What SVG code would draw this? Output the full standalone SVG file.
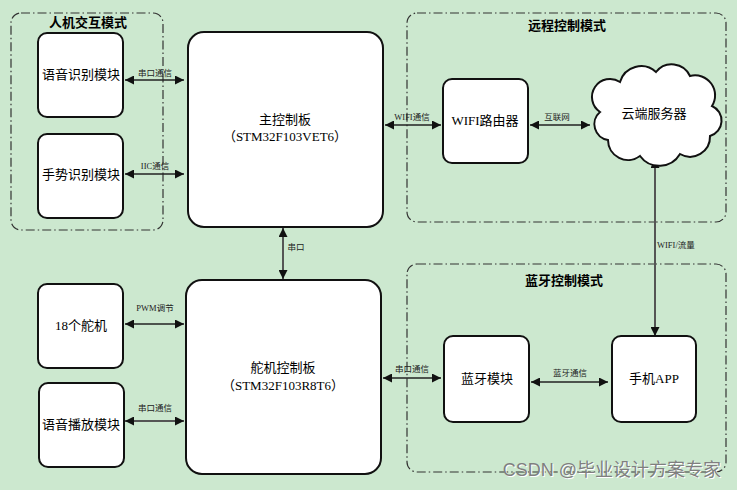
<svg xmlns="http://www.w3.org/2000/svg" width="737" height="490" viewBox="0 0 737 490">
<defs>
<marker id="ah" viewBox="0 0 10 10" refX="10" refY="5" markerWidth="9" markerHeight="9" markerUnits="userSpaceOnUse" orient="auto-start-reverse"><path d="M0,0 L10,5 L0,10 Z" fill="#111"/></marker>
</defs>
<style>
.grp{fill:none;stroke:#333;stroke-width:1.2;stroke-dasharray:9,3,1.5,3}
.box{fill:#fff;stroke:#111;stroke-width:2}
.t{font-family:"Liberation Serif","Noto Sans CJK SC",serif;font-size:13px;fill:#000;text-anchor:middle}
.gt{font-family:"Liberation Sans","Noto Sans CJK SC",sans-serif;font-size:13px;font-weight:bold;fill:#000;text-anchor:middle}
.lb{font-family:"Liberation Serif","Noto Sans CJK SC",serif;font-size:8.5px;fill:#222;text-anchor:middle}
.ln{stroke:#222;stroke-width:1.5;fill:none;marker-start:url(#ah);marker-end:url(#ah)}
.lg{stroke:#555;stroke-width:2;fill:none;marker-start:url(#ah);marker-end:url(#ah)}
.wm{font-family:"Liberation Sans","Noto Sans CJK SC",sans-serif;font-size:18px;text-anchor:end}
</style>
<rect width="737" height="490" fill="#cce8cf"/>
<g id="group-hci">
<rect class="grp" x="11" y="13" width="152" height="217" rx="10"/>
<text class="gt" x="88" y="27">人机交互模式</text>
</g>
<g id="group-remote">
<rect class="grp" x="407" y="13" width="319" height="209" rx="10"/>
<text class="gt" x="567" y="30">远程控制模式</text>
</g>
<g id="group-bt">
<rect class="grp" x="407" y="264" width="319" height="208" rx="10"/>
<text class="gt" x="564" y="285">蓝牙控制模式</text>
</g>
<g id="connectors">
<line class="ln" x1="125" y1="80" x2="184" y2="80"/>
<text class="lb" x="155" y="76">串口通信</text>
<line class="ln" x1="125" y1="174" x2="184" y2="174"/>
<text class="lb" x="155" y="169">IIC通信</text>
<line class="ln" x1="385" y1="125" x2="441" y2="125"/>
<text class="lb" x="412" y="120">WIFI通信</text>
<line class="ln" x1="530" y1="125" x2="590" y2="125"/>
<text class="lb" x="557" y="120">互联网</text>
<line class="lg" x1="655" y1="159" x2="655" y2="336"/>
<text class="lb" x="657" y="248" style="text-anchor:start">WIFI/流量</text>
<line class="lg" x1="283" y1="228" x2="283" y2="279"/>
<text class="lb" x="296" y="250">串口</text>
<line class="ln" x1="125" y1="324" x2="184" y2="324"/>
<text class="lb" x="155" y="311">PWM调节</text>
<line class="lg" x1="125" y1="421" x2="184" y2="421"/>
<text class="lb" x="155" y="411">串口通信</text>
<line class="ln" x1="383" y1="378" x2="441" y2="378"/>
<text class="lb" x="412" y="372">串口通信</text>
<line class="ln" x1="531" y1="382" x2="608" y2="382"/>
<text class="lb" x="570" y="376">蓝牙通信</text>
</g>
<g id="voice-rec">
<rect class="box" x="38" y="33" width="85" height="84" rx="9"/>
<text class="t" x="81" y="79">语音识别模块</text>
</g>
<g id="gesture">
<rect class="box" x="38" y="134" width="85" height="84" rx="9"/>
<text class="t" x="81" y="179">手势识别模块</text>
</g>
<g id="main-board">
<rect class="box" x="188" y="32" width="195" height="195" rx="16"/>
<text class="t" x="285" y="124">主控制板</text>
<text class="t" x="285" y="141">（STM32F103VET6）</text>
</g>
<g id="wifi-router">
<rect class="box" x="443" y="79" width="85" height="84" rx="9"/>
<text class="t" x="485" y="125">WIFI路由器</text>
</g>
<g id="cloud">
<path d="M608,140 a16,16 0 0 1 -8,-28 a18,18 0 0 1 20,-30 a22,22 0 0 1 36,-10 a20,20 0 0 1 34,4 a20,20 0 0 1 22,30 a16,16 0 0 1 -2,30 a20,20 0 0 1 -30,18 a24,24 0 0 1 -40,2 a20,20 0 0 1 -32,-16 Z" fill="#fff" stroke="#111" stroke-width="2"/>
<text class="t" x="654" y="118">云端服务器</text>
</g>
<g id="servos">
<rect class="box" x="38" y="284" width="85" height="84" rx="9"/>
<text class="t" x="81" y="330">18个舵机</text>
</g>
<g id="voice-play">
<rect class="box" x="39" y="383" width="85" height="84" rx="9"/>
<text class="t" x="81" y="429">语音播放模块</text>
</g>
<g id="servo-board">
<rect class="box" x="186" y="280" width="195" height="194" rx="16"/>
<text class="t" x="283" y="372">舵机控制板</text>
<text class="t" x="283" y="390">（STM32F103R8T6）</text>
</g>
<g id="bt-module">
<rect class="box" x="444" y="336" width="85" height="86" rx="9"/>
<text class="t" x="487" y="383">蓝牙模块</text>
</g>
<g id="phone-app">
<rect class="box" x="612" y="336" width="84" height="86" rx="9"/>
<text class="t" x="654" y="383">手机APP</text>
</g>
<text class="wm" x="722" y="477" fill="#ffffff">CSDN @毕业设计方案专家</text>
<text class="wm" x="721" y="476" fill="#7f7f7f">CSDN @毕业设计方案专家</text>
</svg>
